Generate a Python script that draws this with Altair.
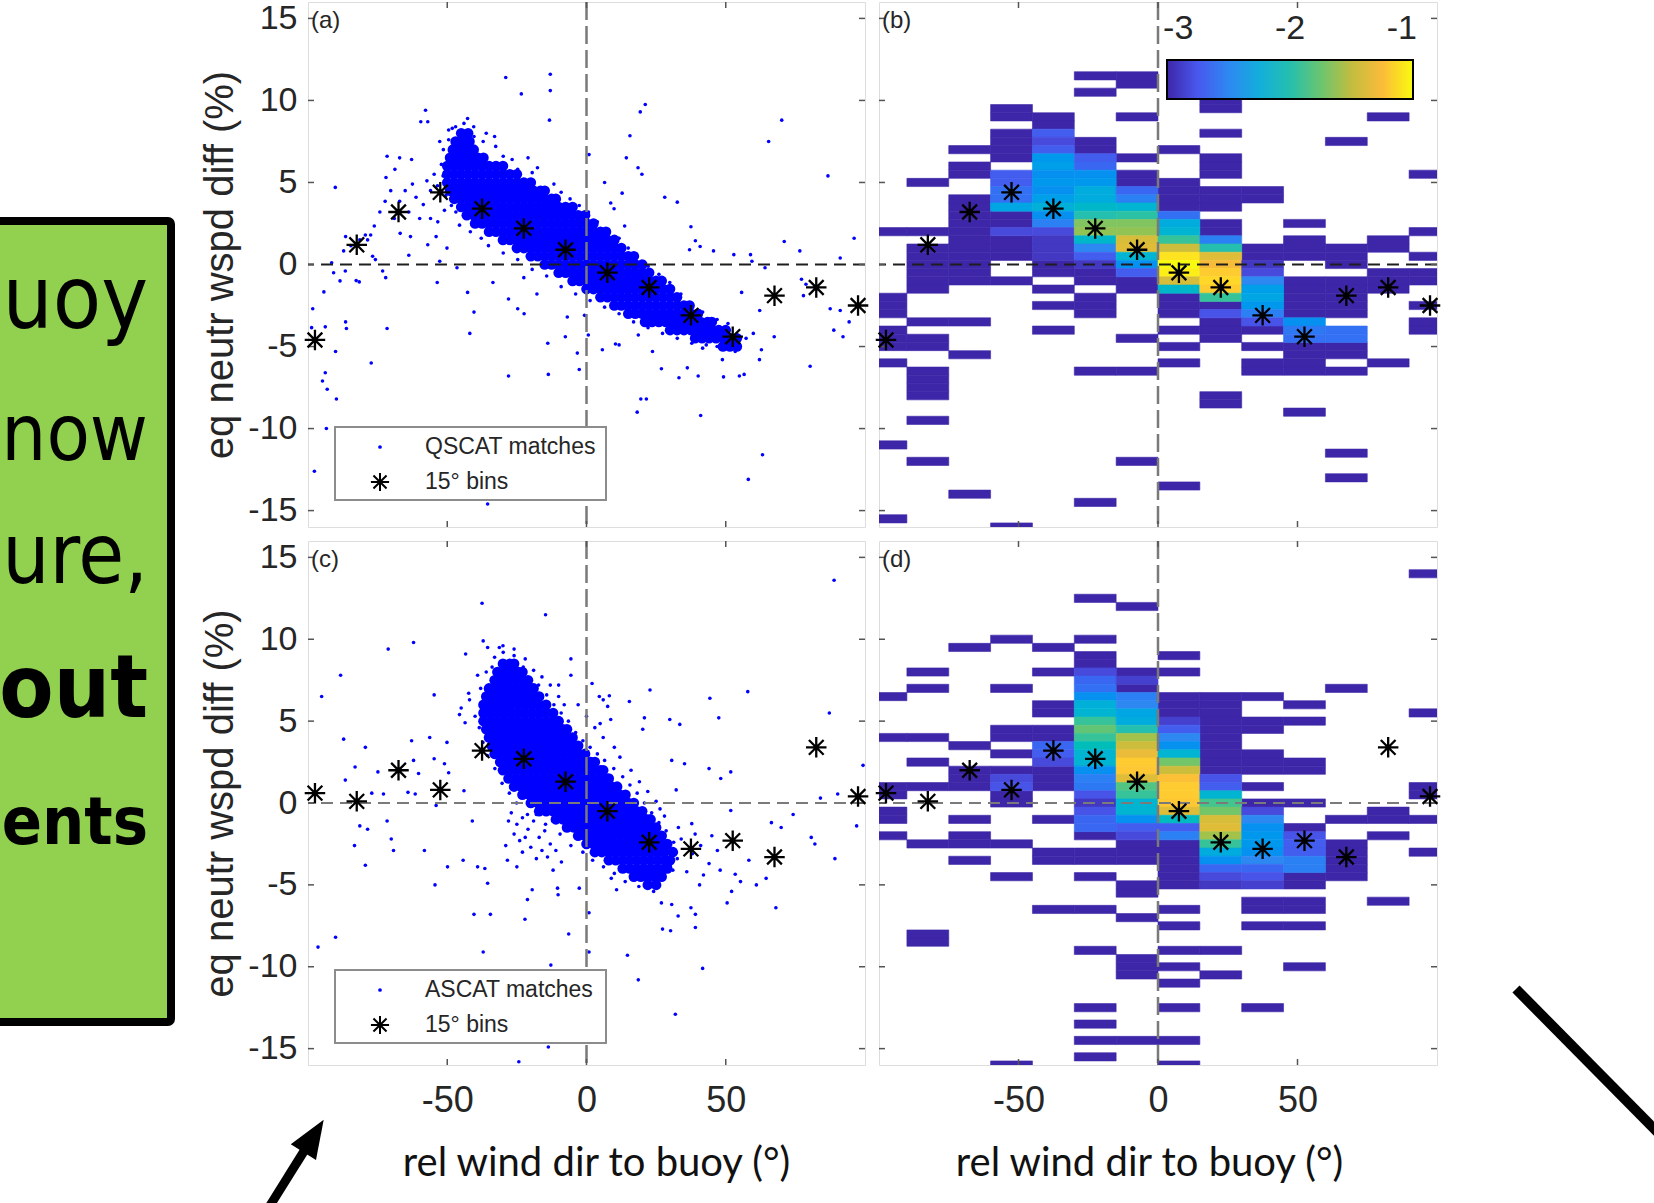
import altair as alt
import pandas as pd

# ------------------------------------------------------------------ data
X_BINS = [-97.5, -82.5, -67.5, -52.5, -37.5, -22.5, -7.5, 7.5, 22.5, 37.5, 52.5, 67.5, 82.5, 97.5]
A_MEANS = [-4.6, 1.2, 3.2, 4.4, 3.4, 2.2, 0.9, -0.5, -1.4, -3.1, -4.4, -1.9, -1.4, -2.5]
C_MEANS = [0.6, 0.1, 2.0, 0.8, 3.2, 2.7, 1.3, -0.5, -2.4, -2.8, -2.3, -3.3, 3.4, 0.4]
Y_TICKS = [-15, -10, -5, 0, 5, 10, 15]
X_TICKS = [-50, 0, 50]
CB_TICKS = [-3, -2, -1]
CB_LIMITS = [-3.1, -0.9]
D = -3.1  # single-count cells (lowest colour)

# 2-D histogram, panel (b): dark cells per 15-degree column (y bin centres)
B_DARK = {
    -97.5: [2.0, -2.0, -2.5, -3.0, -4.0, -4.5, -5.0, -6.0, -11.0, -15.5],
    -82.5: [5.0, 2.0, 1.0, 0.5, 0.0, -0.5, -1.0, -1.5, -3.5, -4.5, -5.0, -6.5, -7.0, -7.5, -8.0, -9.5, -12.0],
    -67.5: [7.0, 6.0, 5.5, 4.0, 3.5, 3.0, 2.5, 2.0, 1.5, 1.0, 0.5, 0.0, -0.5, -1.0, -3.5, -5.5, -14.0],
    -52.5: [9.5, 9.0, 8.0, 7.5, 7.0, 6.5, 3.0, 2.5, 1.5, 1.0, 0.5, -1.0, -16.0],
    -37.5: [9.0, 8.5, 0.0, -0.5, -1.5, -2.5, -4.0],
    -22.5: [11.5, 10.5, 7.5, 7.0, -0.5, -1.0, -2.0, -2.5, -3.0, -6.5, -14.5],
    -7.5: [11.5, 11.0, 9.0, 6.5, 5.5, 5.0, -1.0, -1.5, -4.5, -6.5, -12.0],
    7.5: [7.0, 5.0, 4.5, 4.0, 3.5, -2.0, -2.5, -3.0, -4.0, -5.0, -6.0, -13.5],
    22.5: [10.0, 9.5, 8.0, 6.5, 6.0, 5.5, 4.5, 4.0, 3.5, 2.5, 2.0, -2.5, -3.5, -4.0, -4.5, -8.0, -8.5],
    37.5: [4.5, 4.0, 1.0, 0.5, -4.0, -5.0, -6.0, -6.5],
    52.5: [2.5, 1.5, 1.0, 0.5, -1.0, -1.5, -2.0, -2.5, -3.0, -5.0, -5.5, -6.0, -6.5, -9.0],
    67.5: [7.5, 1.0, 0.5, 0.0, -1.0, -1.5, -2.0, -2.5, -3.0, -5.0, -5.5, -6.5, -11.5, -13.0],
    82.5: [9.0, 1.5, 1.0, -0.5, -1.0, -1.5, -6.0],
    97.5: [5.5, 2.0, 0.5, -0.5, -1.0, -2.5, -3.5, -4.0],
}
# panel (b): cells with higher density, (y bin centre, log10 density)
B_COLOR = {
    -52.5: [(5.5, -2.8), (5.0, -2.8), (4.5, -2.7), (4.0, -2.7), (3.5, -2.35), (2.0, -2.9)],
    -37.5: [(8.0, -2.8), (7.5, -2.9), (7.0, -2.8), (6.5, -2.45), (6.0, -2.4), (5.5, -2.5), (5.0, -2.45),
            (4.5, -2.5), (4.0, -2.4), (3.5, -2.25), (3.0, -2.5), (2.5, -2.6), (2.0, -2.9), (1.5, -3.0),
            (1.0, -3.0), (0.5, -3.0)],
    -22.5: [(6.5, -2.8), (6.0, -2.75), (5.5, -2.5), (5.0, -2.45), (4.5, -2.3), (4.0, -2.3), (3.5, -2.15),
            (3.0, -2.0), (2.5, -1.65), (2.0, -1.6), (1.5, -2.15), (1.0, -2.55), (0.5, -2.8), (0.0, -3.0)],
    -7.5: [(4.5, -2.75), (4.0, -2.6), (3.5, -2.2), (3.0, -1.95), (2.5, -1.65), (2.0, -1.6), (1.5, -1.35),
           (1.0, -1.3), (0.5, -2.2), (0.0, -2.5), (-0.5, -2.8)],
    7.5: [(3.0, -2.7), (2.5, -2.3), (2.0, -2.2), (1.5, -1.9), (1.0, -1.4), (0.5, -1.0), (0.0, -0.9),
          (-0.5, -0.95), (-1.0, -1.35), (-1.5, -2.15)],
    22.5: [(1.5, -2.6), (1.0, -2.0), (0.5, -1.3), (0.0, -1.2), (-0.5, -1.1), (-1.0, -1.05), (-1.5, -1.1),
           (-2.0, -1.9), (-3.0, -2.85)],
    37.5: [(0.0, -3.0), (-0.5, -2.9), (-1.0, -2.55), (-1.5, -2.4), (-2.0, -2.35), (-2.5, -2.45), (-3.0, -2.6),
           (-3.5, -2.85)],
    52.5: [(-3.5, -2.5), (-4.0, -2.65), (-4.5, -2.7)],
    67.5: [(-4.0, -2.7), (-4.5, -2.7)],
}

# 2-D histogram, panel (d)
D_DARK = {
    -97.5: [6.5, 4.0, 1.0, 0.5, -0.5, -1.0, -2.0],
    -82.5: [8.0, 7.0, 4.0, 2.5, 1.0, -2.5, -8.0, -8.5],
    -67.5: [9.5, 3.5, 2.0, 1.5, 1.0, -1.0, -2.0, -2.5, -3.5],
    -52.5: [10.0, 7.0, 4.5, 4.0, 3.0, 2.0, 0.5, 0.0, -2.5, -4.5, -16.0],
    -37.5: [9.5, 8.0, 6.0, 5.5, 4.5, 4.0, 2.0, 1.5, 1.0, -1.0, -3.0, -3.5, -6.5],
    -22.5: [12.5, 10.0, 9.0, 8.5, -2.0, -3.0, -3.5, -4.5, -6.5, -9.0, -12.5, -13.5, -14.5, -15.5],
    -7.5: [12.0, 8.0, 7.0, -2.5, -3.0, -3.5, -5.0, -5.5, -7.0, -9.5, -10.0, -10.5, -14.5],
    7.5: [9.0, 8.0, 6.5, 6.0, 5.5, -2.5, -3.0, -3.5, -4.0, -4.5, -5.0, -6.5, -7.5, -9.0, -10.0, -11.0,
          -12.5, -14.5, -16.0],
    22.5: [6.5, 6.0, 5.5, 5.0, 4.5, 4.0, 3.5, 3.0, 2.5, 2.0, -9.0, -10.5],
    37.5: [6.5, 5.0, 4.5, 3.0, 2.5, 2.0, 1.0, 0.0, -6.0, -6.5, -7.5, -12.5],
    52.5: [6.0, 5.0, 2.5, 2.0, 0.0, -1.5, -4.5, -5.0, -6.0, -6.5, -7.5, -10.0],
    67.5: [7.0, -1.0, -2.5, -3.0, -3.5, -4.0, -4.5],
    82.5: [-0.5, -1.0, -2.0, -6.0],
    97.5: [14.0, 5.5, 1.0, 0.5, -1.0, -3.0],
}
D_COLOR = {
    -52.5: [(1.5, -2.9), (1.0, -2.85)],
    -37.5: [(3.5, -2.75), (3.0, -2.8), (2.5, -2.9)],
    -22.5: [(8.0, -2.9), (7.5, -2.75), (7.0, -2.7), (6.5, -2.5), (6.0, -2.25), (5.5, -2.2), (5.0, -1.9),
            (4.5, -1.75), (4.0, -1.9), (3.5, -2.05), (3.0, -2.2), (2.5, -2.2), (2.0, -2.5), (1.5, -2.6),
            (1.0, -2.65), (0.5, -2.85), (0.0, -3.0), (-0.5, -2.85), (-1.0, -2.75), (-1.5, -2.75)],
    -7.5: [(7.5, -2.95), (6.5, -2.6), (6.0, -2.55), (5.5, -2.35), (5.0, -2.3), (4.5, -2.0), (4.0, -1.55),
           (3.5, -1.4), (3.0, -1.25), (2.5, -1.1), (2.0, -1.12), (1.5, -1.3), (1.0, -1.8), (0.5, -1.9),
           (0.0, -2.2), (-0.5, -2.2), (-1.0, -2.5), (-1.5, -2.8), (-2.0, -2.9)],
    7.5: [(5.0, -2.95), (4.5, -2.8), (4.0, -2.55), (3.5, -2.5), (3.0, -2.2), (2.5, -1.7), (2.0, -1.4),
          (1.5, -1.15), (1.0, -1.1), (0.5, -1.1), (0.0, -1.12), (-0.5, -1.3), (-1.0, -2.1), (-1.5, -2.8),
          (-2.0, -2.6)],
    22.5: [(1.5, -2.85), (1.0, -2.8), (0.5, -2.2), (0.0, -1.85), (-0.5, -1.7), (-1.0, -1.35), (-1.5, -1.3),
           (-2.0, -1.55), (-2.5, -1.9), (-3.0, -2.3), (-3.5, -2.5), (-4.0, -2.75), (-4.5, -2.9), (-5.0, -3.0)],
    37.5: [(-0.5, -2.9), (-1.0, -2.55), (-1.5, -2.5), (-2.0, -2.45), (-2.5, -2.45), (-3.0, -2.5),
           (-3.5, -2.55), (-4.0, -2.75), (-4.5, -2.85), (-5.0, -2.95)],
    52.5: [(-2.0, -2.85), (-2.5, -2.8), (-3.0, -2.8), (-3.5, -2.6), (-4.0, -2.6)],
}

# scatter, panel (a): dense core rows (y, [x...]) and scattered points (x, y)
A_CORE = [
    (8.0, [-45, -42.5]),
    (7.5, [-47, -44.5, -42]),
    (7.0, [-48, -45.5, -43, -40.5]),
    (6.5, [-49, -46.5, -44, -41.5, -39, -37]),
    (6.0, [-50, -47.5, -45, -42.5, -40, -37.5, -35, -32.5, -30]),
    (5.5, [-50, -47.5, -45, -42.5, -40, -37.5, -35, -32.5, -30, -27.5, -25]),
    (5.0, [-50, -47.5, -45, -42.5, -40, -37.5, -35, -32.5, -30, -27.5, -25, -22.5, -20]),
    (4.5, [-49, -46.5, -44, -41.5, -39, -36.5, -34, -31.5, -29, -26.5, -24, -21.5, -19, -16.5, -15]),
    (4.0, [-47.5, -45, -42.5, -40, -37.5, -35, -32.5, -30, -27.5, -25, -22.5, -20, -17.5, -15, -12.5, -11]),
    (3.5, [-45, -42.5, -40, -37.5, -35, -32.5, -30, -27.5, -25, -22.5, -20, -17.5, -15, -12.5, -10, -7.5, -5]),
    (3.0, [-43, -40.5, -38, -35.5, -33, -30.5, -28, -25.5, -23, -20.5, -18, -15.5, -13, -10.5, -8, -5.5, -3,
           -0.5]),
    (2.5, [-40, -37.5, -35, -32.5, -30, -27.5, -25, -22.5, -20, -17.5, -15, -12.5, -10, -7.5, -5, -2.5, 0,
           2.5]),
    (2.0, [-35, -32.5, -30, -27.5, -25, -22.5, -20, -17.5, -15, -12.5, -10, -7.5, -5, -2.5, 0, 2.5, 5, 7]),
    (1.5, [-30, -27.5, -25, -22.5, -20, -17.5, -15, -12.5, -10, -7.5, -5, -2.5, 0, 2.5, 5, 7.5, 10]),
    (1.0, [-25, -22.5, -20, -17.5, -15, -12.5, -10, -7.5, -5, -2.5, 0, 2.5, 5, 7.5, 10, 12.5]),
    (0.5, [-20, -17.5, -15, -12.5, -10, -7.5, -5, -2.5, 0, 2.5, 5, 7.5, 10, 12.5, 15, 17]),
    (0.0, [-15, -12.5, -10, -7.5, -5, -2.5, 0, 2.5, 5, 7.5, 10, 12.5, 15, 17.5, 20]),
    (-0.5, [-10, -7.5, -5, -2.5, 0, 2.5, 5, 7.5, 10, 12.5, 15, 17.5, 20, 22.5]),
    (-1.0, [-5, -2.5, 0, 2.5, 5, 7.5, 10, 12.5, 15, 17.5, 20, 22.5, 25, 27]),
    (-1.5, [0, 2.5, 5, 7.5, 10, 12.5, 15, 17.5, 20, 22.5, 25, 27.5, 30]),
    (-2.0, [5, 7.5, 10, 12.5, 15, 17.5, 20, 22.5, 25, 27.5, 30, 32.5]),
    (-2.5, [10, 12.5, 15, 17.5, 20, 22.5, 25, 27.5, 30, 32.5, 35, 37]),
    (-3.0, [15, 17.5, 20, 22.5, 25, 27.5, 30, 32.5, 35, 37.5, 40]),
    (-3.5, [21, 23.5, 26, 28.5, 31, 33.5, 36, 38.5, 41, 43.5, 45]),
    (-4.0, [30, 32.5, 35, 37.5, 40, 42.5, 45, 47.5, 50]),
    (-4.5, [39, 41.5, 44, 46.5, 49, 51.5, 54]),
    (-5.0, [49, 51.5, 54]),
]
A_OUT = [
    (-29.0, 11.4), (-13.0, 11.6), (-13.0, 10.6), (-23.4, 10.4), (-13.3, 8.8), (-57.8, 9.4), (-59.5, 8.7),
    (-57.0, 8.7), (-42.7, 8.9), (21.1, 9.75), (19.3, 9.3), (15.6, 7.85), (70.1, 8.8), (65.4, 7.5), (86.7, 5.4),
    (0.9, 6.7), (14.3, 6.5), (18.5, 5.9), (19.9, 5.5), (6.5, 5.0), (12.8, 4.35), (8.7, 3.75), (9.9, 3.4),
    (28.1, 4.1), (32.6, 3.8), (13.7, 2.35), (37.5, 2.3), (39.1, 1.45), (37.0, 0.9), (40.8, 1.1), (45.6, 0.83),
    (52.9, 0.6), (58.9, 0.6), (71.0, 1.4), (76.6, 0.83), (91.1, 0.4), (96.1, 1.6), (64.1, -0.2), (59.4, 0.2),
    (-90.2, 4.7), (-86.5, 1.7), (-87.2, 0.83), (-91.5, 0.1), (-94.3, -1.67), (-88.5, -1.0), (-86.6, -0.4),
    (-90.8, -0.5), (-82.7, -0.98), (-81.6, -1.06), (-98.3, -2.7), (-93.8, -3.8), (-98.7, -3.85), (-86.5, -3.5),
    (-86.2, -3.9), (-90.1, -5.3), (-77.3, -6.0), (-93.8, -6.6), (-94.8, -7.1), (-93.1, -7.6), (-89.8, -8.2),
    (-93.4, -10.0), (-97.7, -12.6), (-71.6, -3.9), (-72.1, -0.8), (-73.2, -0.4), (-75.8, 0.3), (-76.8, 0.5),
    (-76.2, 2.35), (-77.5, 1.8), (-78.6, 1.5), (-72.0, 5.3), (-71.6, 6.6), (-68.8, 5.8), (-67.1, 6.5),
    (-62.8, 6.4), (-63.8, 0.56), (-66.9, 1.9), (-63.2, 1.7), (-53.6, -1.1), (-52.7, 0.2), (-57.0, 1.2),
    (-54.0, 1.7), (-50.1, 1.0), (-46.5, -0.2), (-42.7, -1.7), (-40.4, -2.9), (-41.9, -4.2), (-28.0, -6.8),
    (-13.7, -6.7), (-13.9, -4.8), (-7.6, -4.4), (-6.9, -3.2), (-0.7, -3.1), (0.65, -4.3), (-3.3, -5.4),
    (-2.6, -6.4), (-28.0, -2.1), (-24.7, -2.7), (-22.4, -3.0), (-22.5, -0.8), (-33.6, -1.1), (-17.8, -1.8),
    (5.7, -5.2), (10.4, -4.85), (11.7, -4.9), (18.6, -4.3), (19.5, -8.2), (18.2, -9.0), (21.5, -8.2),
    (23.7, -5.3), (26.9, -6.35), (33.2, -6.9), (36.2, -6.3), (40.1, -6.8), (41.0, -9.2), (41.7, -5.1),
    (48.8, -5.8), (49.2, -6.85), (54.9, -6.8), (56.6, -6.7), (62.1, -5.8), (62.8, -5.2), (63.2, -11.6),
    (58.1, -13.1), (67.4, -4.4), (80.3, -6.2), (62.2, -2.8), (55.7, -1.7), (87.5, -2.7), (91.1, -2.8),
    (94.3, -3.5), (88.8, -4.0), (92.1, -4.4), (77.2, -0.9), (78.8, -1.2), (77.9, -1.9), (-35.5, -14.6),
    (-40.4, 7.8), (-37.1, 7.5), (-32.6, 7.2), (-29.9, 6.6), (-26.7, 6.4), (-24.7, 5.8), (-19.5, 5.6),
    (-17.6, 5.9), (-11.7, 4.9), (-9.1, 4.4), (-5.9, 4.0), (-2.6, 3.6), (0.7, 3.2), (3.9, 2.6), (7.8, 2.1),
    (11.7, 1.6), (15.0, 1.0), (18.2, 0.5), (22.1, -0.1), (26.0, -0.6), (29.9, -1.1), (33.9, -1.8),
    (37.8, -2.4), (41.7, -2.9), (46.9, -3.35), (50.8, -3.6), (-46.9, 3.2), (-45.6, 2.4), (-41.7, 2.0),
    (-37.8, 1.6), (-35.2, 1.15), (-29.9, 0.7), (-24.7, 0.3), (-19.5, -0.3), (-14.3, -0.7), (-9.1, -1.35),
    (-3.9, -1.8), (1.3, -2.2), (6.5, -2.6), (11.7, -3.0), (16.9, -3.5), (22.1, -3.85), (27.3, -4.2),
    (32.6, -4.5), (37.8, -4.8), (43.0, -4.9), (46.9, -5.0), (53.4, -5.3), (57.3, -4.5), (59.9, -4.2),
    (-70.3, 4.5), (-67.1, 3.85), (-65.1, 4.5), (-62.5, 4.9), (-61.2, 4.1), (-58.6, 3.65), (-56.0, 4.5),
    (-57.3, 5.1), (-54.7, 5.5), (-52.1, 6.1), (-51.4, 7.0), (-52.7, 7.5), (-49.5, 8.2), (-48.2, 8.3),
    (-45.6, 7.6), (-63.8, 3.2), (-59.9, 2.8), (-56.0, 2.8), (-53.4, 2.6), (-69.0, 2.8), (-74.2, 3.2),
    (-72.3, 3.85), (-79.4, 1.8), (-81.4, 1.5), (-84.6, 1.15), (-50.5, 4.2), (-51.5, 5.4), (-51.0, 3.3),
    (-50.0, 6.6), (-44.0, 8.6), (-40.5, 8.4), (-36.0, 8.0), (-33.0, 7.8), (-21.0, 6.5), (-49.5, 7.6),
    (-47.0, 8.4), (-53.5, 4.8), (-48.5, 3.6),
]

# scatter, panel (c)
C_CORE = [
    (8.5, [-30, -27.5, -26]),
    (8.0, [-32, -29.5, -27, -24.5, -23]),
    (7.5, [-33, -30.5, -28, -25.5, -23, -21]),
    (7.0, [-35, -32.5, -30, -27.5, -25, -22.5, -20, -19]),
    (6.5, [-36, -33.5, -31, -28.5, -26, -23.5, -21, -18.5, -17]),
    (6.0, [-37, -34.5, -32, -29.5, -27, -24.5, -22, -19.5, -17, -14.5]),
    (5.5, [-37, -34.5, -32, -29.5, -27, -24.5, -22, -19.5, -17, -14.5, -12]),
    (5.0, [-37, -34.5, -32, -29.5, -27, -24.5, -22, -19.5, -17, -14.5, -12, -10]),
    (4.5, [-36, -33.5, -31, -28.5, -26, -23.5, -21, -18.5, -16, -13.5, -11, -8.5, -7]),
    (4.0, [-35, -32.5, -30, -27.5, -25, -22.5, -20, -17.5, -15, -12.5, -10, -7.5, -5]),
    (3.5, [-34, -31.5, -29, -26.5, -24, -21.5, -19, -16.5, -14, -11.5, -9, -6.5, -4, -3]),
    (3.0, [-33, -30.5, -28, -25.5, -23, -20.5, -18, -15.5, -13, -10.5, -8, -5.5, -3, -0.5]),
    (2.5, [-31, -28.5, -26, -23.5, -21, -18.5, -16, -13.5, -11, -8.5, -6, -3.5, -1, 1.5, 3]),
    (2.0, [-30, -27.5, -25, -22.5, -20, -17.5, -15, -12.5, -10, -7.5, -5, -2.5, 0, 2.5, 5, 6]),
    (1.5, [-28, -25.5, -23, -20.5, -18, -15.5, -13, -10.5, -8, -5.5, -3, -0.5, 2, 4.5, 7, 8]),
    (1.0, [-26, -23.5, -21, -18.5, -16, -13.5, -11, -8.5, -6, -3.5, -1, 1.5, 4, 6.5, 9, 11]),
    (0.5, [-23, -20.5, -18, -15.5, -13, -10.5, -8, -5.5, -3, -0.5, 2, 4.5, 7, 9.5, 12, 14]),
    (0.0, [-20, -17.5, -15, -12.5, -10, -7.5, -5, -2.5, 0, 2.5, 5, 7.5, 10, 12.5, 15, 17]),
    (-0.5, [-17, -14.5, -12, -9.5, -7, -4.5, -2, 0.5, 3, 5.5, 8, 10.5, 13, 15.5, 18, 20]),
    (-1.0, [-11, -8.5, -6, -3.5, -1, 1.5, 4, 6.5, 9, 11.5, 14, 16.5, 19, 21.5, 23]),
    (-1.5, [-7, -4.5, -2, 0.5, 3, 5.5, 8, 10.5, 13, 15.5, 18, 20.5, 23, 25]),
    (-2.0, [-3, -0.5, 2, 4.5, 7, 9.5, 12, 14.5, 17, 19.5, 22, 24.5, 27]),
    (-2.5, [0, 2.5, 5, 7.5, 10, 12.5, 15, 17.5, 20, 22.5, 25, 27.5, 29]),
    (-3.0, [3, 5.5, 8, 10.5, 13, 15.5, 18, 20.5, 23, 25.5, 28, 31]),
    (-3.5, [8, 10.5, 13, 15.5, 18, 20.5, 23, 25.5, 28, 30]),
    (-4.0, [13, 15.5, 18, 20.5, 23, 25.5, 28, 29]),
    (-4.5, [17, 19.5, 22, 24.5, 27]),
    (-5.0, [22, 25]),
]
C_OUT = [
    (88.9, 13.6), (-37.5, 12.2), (-14.7, 11.5), (-62.1, 9.8), (-71.2, 9.4), (-37.1, 9.9), (-35.5, 9.5),
    (-31.3, 9.5), (-43.4, 9.1), (-88.3, 7.8), (-95.1, 6.5), (-54.7, 6.6), (-42.3, 6.7), (-39.1, 7.8),
    (-5.6, 8.8), (-5.6, 7.8), (-10.0, 7.2), (4.6, 6.5), (8.2, 6.55), (15.4, 6.2), (7.6, 5.9), (8.7, 5.1),
    (4.9, 4.85), (22.8, 6.9), (20.8, 5.2), (29.9, 5.1), (33.5, 4.8), (20.2, 4.5), (44.3, 6.4), (47.5, 5.2),
    (57.9, 6.8), (87.2, 5.5), (99.3, 2.3), (30.6, 2.6), (35.2, 2.4), (44.0, 2.1), (48.2, 1.5), (51.8, 1.9),
    (32.2, 0.8), (26.4, -0.36), (37.8, -1.26), (51.8, -0.46), (66.4, -1.2), (69.9, -1.5), (74.2, -0.7),
    (84.0, 0.3), (90.2, 0.55), (97.0, -1.4), (80.7, -2.1), (82.0, -2.5), (89.2, -3.4), (68.0, -6.4),
    (64.5, -4.6), (61.0, -5.0), (55.3, -4.8), (52.1, -5.4), (50.5, -6.1), (58.3, -3.5), (53.4, -4.35),
    (40.6, -5.0), (37.5, -6.4), (39.1, -6.8), (39.1, -7.6), (32.9, -6.9), (30.6, -6.2), (26.9, -6.1),
    (27.3, -7.7), (30.2, -7.8), (41.7, -10.1), (31.9, -12.9), (18.6, -10.8), (14.7, -9.3), (10.8, -5.3),
    (8.9, -4.6), (0.9, -6.7), (0.9, -9.1), (-6.4, -8.0), (-2.6, -5.2), (-10.4, -5.2), (-10.2, -5.6),
    (-19.5, -5.3), (-21.2, -5.9), (-22.1, -7.1), (-25.0, -3.9), (-28.4, -3.5), (-35.5, -4.9), (-39.1, -3.9),
    (-36.5, -4.0), (-44.3, -3.5), (-40.4, -6.8), (-34.5, -6.8), (-37.1, -9.1), (-49.9, -3.9), (-54.4, -5.0),
    (-58.2, -2.9), (-69.3, -2.9), (-70.1, -2.2), (-83.3, -2.6), (-79.4, -3.8), (-81.4, -1.4), (-78.6, -1.6),
    (-71.6, -1.1), (-90.1, -8.2), (-96.4, -8.8), (-12.8, -9.9), (-24.7, -14.6), (-13.7, -14.9), (-2.0, -14.6),
    (-24.3, -15.8), (-87.2, 3.9), (-79.4, 3.4), (-83.1, 2.2), (-86.6, 1.4), (-74.9, 1.9), (-72.9, 0.55),
    (-77.1, 0.6), (-62.8, 3.8), (-62.1, 2.6), (-60.3, 1.8), (-64.1, 0.65), (-61.5, 0.55), (-56.3, 4.0),
    (-54.7, 2.7), (-51.0, 2.4), (-49.5, 1.85), (-50.1, 3.7), (-45.6, 5.4), (-43.6, 4.9), (-44.0, 0.75),
    (-54.0, -0.15), (-41.0, -1.1),
    (-29.9, 9.2), (-26.0, 9.0), (-33.9, 8.3), (-22.7, 8.3), (-20.5, 7.6), (-17.2, 7.2), (-14.3, 6.6),
    (-11.7, 6.0), (-9.1, 5.5), (-6.5, 5.0), (-3.9, 4.3), (-1.3, 3.8), (1.3, 3.4), (3.9, 3.0), (6.5, 2.6),
    (9.8, 2.1), (13.0, 1.6), (15.6, 1.1), (18.2, 0.6), (20.8, 0.0), (23.4, -0.6), (26.0, -1.2), (28.6, -1.7),
    (31.3, -2.4), (32.6, -3.4), (31.0, -4.1), (-38.5, 4.6), (-37.2, 3.7), (-35.6, 2.9), (-32.9, 2.1),
    (-30.3, 1.2), (-27.7, 0.6), (-25.1, 0.0), (-21.2, -0.7), (-14.7, -1.3), (-9.5, -1.9), (-5.6, -2.6),
    (-1.3, -3.0), (2.2, -3.5), (6.1, -3.9), (10.0, -4.3), (13.9, -4.8), (18.8, -5.1), (24.1, -5.4),
    (-27.0, -0.6), (-25.0, -1.3), (-23.0, -0.9), (-21.0, -1.6), (-19.0, -1.1), (-17.0, -2.1), (-24.0, -2.3),
    (-20.0, -2.7), (-15.0, -1.7), (-13.0, -2.5), (-26.0, -1.9), (-22.0, -2.1), (-18.0, -0.7), (-16.0, -2.9),
    (-28.0, -1.1), (-14.0, -3.3), (-11.0, -2.9), (-9.0, -3.6), (-12.0, -4.1), (-18.0, -3.4), (-23.0, -3.0),
    (-29.0, -2.6), (30.0, -3.8), (34.0, -2.2), (38.0, -3.1), (41.0, -2.6), (44.0, -3.7), (47.0, -2.9),
    (36.0, -4.2), (42.0, -4.4), (48.0, -4.1), (33.0, -1.5), (39.0, -1.9), (45.0, -2.0), (-45.0, 5.8),
    (-42.0, 6.3), (-40.0, 5.3), (-38.0, 7.0), (-36.0, 8.0), (-33.0, 8.9), (-30.0, 9.6), (-26.0, 9.4),
    (-22.0, 8.8), (-19.0, 8.1), (-16.0, 7.7), (-13.0, 7.2), (-10.0, 6.5), (-8.0, 6.0), (0.0, 5.3), (3.0, 4.6),
    (6.0, 4.0), (-3.0, 6.0), (10.0, 3.4), (12.0, 2.8), (16.0, 2.0), (19.0, 1.3), (22.0, 0.7), (25.0, 0.1),
    (28.0, -0.8), (6.0, 6.3), (2.0, 7.3),
]

BOX_LINES = ["uoy", "now", "ure,", "out", "ents"]
BOX_BOLD = [False, False, False, True, True]
BOX_SIZE = [88, 79, 83, 88, 66]
BOX_BASE = [326, 458, 581, 715, 842]

# parula-like colour ramp
PARULA = ["#3e26a8", "#4858ee", "#2d88f2", "#13aedb", "#25bfaf", "#6ac56f", "#c2bd3f", "#fbbb3a", "#f9fb0e"]

# ------------------------------------------------------------------ styling
W_L, W_R, H_T, H_B = 557, 558, 525, 524
SANS = "'Liberation Sans', Arial, sans-serif"
COND = "'DejaVu Sans Condensed', 'DejaVu Sans', sans-serif"
STAR = "M0,-1L0,1M-1,0L1,0M-0.72,-0.72L0.72,0.72M-0.72,0.72L0.72,-0.72"
HEAD = "M0,-1L0.62,0.6L-0.62,0.6Z"
XS = alt.Scale(domain=[-100, 100], nice=False, zero=False)
YS = alt.Scale(domain=[-16, 16], nice=False, zero=False)
lo, hi = CB_LIMITS
CDOM = [lo + i * (hi - lo) / (len(PARULA) - 1) for i in range(len(PARULA))]
CSCALE = alt.Scale(domain=CDOM, range=PARULA, clamp=True)
GRAD = alt.LinearGradient(
    gradient="linear", x1=0, x2=1, y1=0, y2=0,
    stops=[alt.GradientStop(color=c, offset=i / (len(PARULA) - 1)) for i, c in enumerate(PARULA)],
)
ONE = pd.DataFrame({"a": [0]})


def heat_df(dark, color):
    rows = []
    for xc, yl in dark.items():
        for y in yl:
            rows.append((xc, y, D))
    for xc, cells in color.items():
        for y, v in cells:
            rows.append((xc, y, v))
    df = pd.DataFrame(rows, columns=["xc", "yc", "v"]).drop_duplicates(["xc", "yc"], keep="last")
    df["x0"] = df["xc"] - 7.5
    df["x1"] = df["xc"] + 7.5
    df["y0"] = df["yc"] - 0.25
    df["y1"] = df["yc"] + 0.25
    return df


def core_df(rows):
    xs, ys = [], []
    for y, xl in rows:
        for x in xl:
            xs.append(x)
            ys.append(y)
    return pd.DataFrame({"x": xs, "y": ys})


def x_axis(show, title_x):
    if not show:
        return None
    return alt.Axis(values=X_TICKS, labelExpr="'' + datum.value", grid=False, domain=False, ticks=False,
                    labelFont=SANS, labelFontSize=36, labelPadding=18, labelColor="#262626",
                    labelFlush=False, title="rel wind dir to buoy (°)", titleFont="Lato",
                    titleFontSize=40, titleFontWeight="normal", titleColor="#111111",
                    titleX=title_x, titleY=98, titleBaseline="middle", titleAlign="center")


def y_axis(show, h):
    if not show:
        return None
    return alt.Axis(values=Y_TICKS, labelExpr="'' + datum.value", grid=False, domain=False, ticks=False,
                    labelFont=SANS, labelFontSize=34, labelPadding=11, labelColor="#262626",
                    title="eq neutr wspd diff (%)", titleFont=SANS, titleFontSize=40,
                    titleFontWeight="normal", titleColor="#262626", titleX=-88, titleY=h / 2,
                    titleBaseline="middle", titleAlign="center", titleAngle=270)


def frame_layers(w, h, label, hcolor, xa, ya):
    xt = pd.DataFrame({"t": X_TICKS})
    yt = pd.DataFrame({"t": Y_TICKS})
    tick = dict(color="#555555", strokeWidth=1.5)
    return [
        alt.Chart(ONE).mark_rule(color=hcolor, strokeWidth=2, strokeDash=[12, 7]).encode(
            y=alt.Y("a:Q", scale=YS, axis=ya)),
        alt.Chart(ONE).mark_rule(color="#7a7a7a", strokeWidth=2.5, strokeDash=[18, 6]).encode(
            x=alt.X("a:Q", scale=XS, axis=xa)),
        alt.Chart(xt).mark_rule(**tick).encode(x=alt.X("t:Q", scale=XS, axis=xa), y=alt.value(0), y2=alt.value(6)),
        alt.Chart(xt).mark_rule(**tick).encode(x=alt.X("t:Q", scale=XS, axis=xa), y=alt.value(h - 6), y2=alt.value(h)),
        alt.Chart(yt).mark_rule(**tick).encode(y=alt.Y("t:Q", scale=YS, axis=ya), x=alt.value(0), x2=alt.value(6)),
        alt.Chart(yt).mark_rule(**tick).encode(y=alt.Y("t:Q", scale=YS, axis=ya), x=alt.value(w - 6), x2=alt.value(w)),
        alt.Chart(pd.DataFrame({"t": [label]})).mark_text(
            align="left", baseline="middle", font=SANS, fontSize=24, color="#262626").encode(
            x=alt.value(3), y=alt.value(19), text="t:N"),
    ]


def star_layer(means, xa, ya):
    df = pd.DataFrame({"x": X_BINS, "y": means})
    return alt.Chart(df).mark_point(shape=STAR, size=420, filled=False, stroke="black",
                                    strokeWidth=2.3, opacity=1).encode(
        x=alt.X("x:Q", scale=XS, axis=xa), y=alt.Y("y:Q", scale=YS, axis=ya))


def legend_layers(top, name):
    txt = dict(align="left", baseline="middle", font=SANS, fontSize=23, color="#262626")
    return [
        alt.Chart(ONE).mark_rect(fill="white", stroke="#8c8c8c", strokeWidth=2).encode(
            x=alt.value(27), x2=alt.value(298), y=alt.value(top), y2=alt.value(top + 73)),
        alt.Chart(ONE).mark_circle(size=14, color="#0000ff", opacity=1).encode(
            x=alt.value(72), y=alt.value(top + 20)),
        alt.Chart(ONE).mark_point(shape=STAR, size=330, filled=False, stroke="black", strokeWidth=2,
                                  opacity=1).encode(x=alt.value(72), y=alt.value(top + 55)),
        alt.Chart(pd.DataFrame({"t": [name]})).mark_text(**txt).encode(
            x=alt.value(117), y=alt.value(top + 20), text="t:N"),
        alt.Chart(pd.DataFrame({"t": ["15° bins"]})).mark_text(**txt).encode(
            x=alt.value(117), y=alt.value(top + 55), text="t:N"),
    ]


def scatter_panel(core, out, means, label, name, w, h, show_x, title_x, hcolor, legend_top):
    xa, ya = x_axis(show_x, title_x), y_axis(True, h)
    core_l = alt.Chart(core_df(core)).mark_circle(size=112, color="#0000ff", opacity=1).encode(
        x=alt.X("x:Q", scale=XS, axis=xa), y=alt.Y("y:Q", scale=YS, axis=ya))
    out_df = pd.DataFrame(out, columns=["x", "y"])
    out_l = alt.Chart(out_df).mark_circle(size=13, color="#0000ff", opacity=1).encode(
        x=alt.X("x:Q", scale=XS, axis=xa), y=alt.Y("y:Q", scale=YS, axis=ya))
    layers = [core_l, out_l] + frame_layers(w, h, label, hcolor, xa, ya) + [star_layer(means, xa, ya)]
    layers += legend_layers(legend_top, name)
    return layers


def heat_panel(dark, color, means, label, w, h, show_x, title_x, hcolor):
    xa, ya = x_axis(show_x, title_x), None
    heat = alt.Chart(heat_df(dark, color)).mark_rect(clip=True, strokeWidth=0.6).encode(
        x=alt.X("x0:Q", scale=XS, axis=xa), x2="x1:Q",
        y=alt.Y("y0:Q", scale=YS, axis=ya), y2="y1:Q",
        color=alt.Color("v:Q", scale=CSCALE, legend=None),
        stroke=alt.Stroke("v:Q", scale=CSCALE, legend=None))
    return [heat] + frame_layers(w, h, label, hcolor, xa, ya) + [star_layer(means, xa, ya)]


# ---- panel (a) + slide decorations (green note box, arrows)
pa_layers = scatter_panel(A_CORE, A_OUT, A_MEANS, "(a)", "QSCAT matches", W_L, H_T, False, 0,
                          "#1e1e1e", 425)
deco = [
    alt.Chart(ONE).mark_rect(fill="#92d050", stroke="black", strokeWidth=8, cornerRadius=3).encode(
        x=alt.value(-340), x2=alt.value(-137), y=alt.value(219), y2=alt.value(1020)),
]
for t, b, s, py in zip(BOX_LINES, BOX_BOLD, BOX_SIZE, BOX_BASE):
    deco.append(alt.Chart(pd.DataFrame({"t": [t]})).mark_text(
        align="right", baseline="alphabetic", font=COND, fontSize=s,
        fontWeight="bold" if b else "normal", color="black").encode(
        x=alt.value(-160), y=alt.value(py), text="t:N"))
deco += [
    alt.Chart(ONE).mark_rule(color="black", strokeWidth=9).encode(
        x=alt.value(3), y=alt.value(1138), x2=alt.value(-52), y2=alt.value(1226)),
    alt.Chart(ONE).mark_point(shape=HEAD, size=2300, filled=True, color="black", opacity=1,
                              angle=32).encode(x=alt.value(3), y=alt.value(1138)),
    alt.Chart(ONE).mark_rule(color="black", strokeWidth=10).encode(
        x=alt.value(1208), y=alt.value(987), x2=alt.value(1372), y2=alt.value(1153)),
]
panel_a = alt.layer(*(pa_layers + deco)).properties(width=W_L, height=H_T)

# ---- panel (b) with colour bar
cb_scale = alt.Scale(domain=CB_LIMITS, range=[288, 534], nice=False, zero=False)
cbar = alt.layer(
    alt.Chart(pd.DataFrame({"lo": [CB_LIMITS[0]], "hi": [CB_LIMITS[1]]})).mark_rect(
        fill=GRAD, stroke="black", strokeWidth=2).encode(
        x=alt.X("lo:Q", scale=cb_scale, axis=None), x2="hi:Q", y=alt.value(58), y2=alt.value(97)),
    alt.Chart(pd.DataFrame({"v": CB_TICKS, "t": [str(v) for v in CB_TICKS]})).mark_text(
        baseline="middle", font=SANS, fontSize=34, color="#262626").encode(
        x=alt.X("v:Q", scale=cb_scale, axis=None), y=alt.value(27), text="t:N"),
)
panel_b = alt.layer(
    alt.layer(*heat_panel(B_DARK, B_COLOR, A_MEANS, "(b)", W_R, H_T, False, 0, "#1e1e1e")),
    cbar,
).resolve_scale(x="independent").properties(width=W_R, height=H_T)

# ---- panel (c)
panel_c = alt.layer(*scatter_panel(C_CORE, C_OUT, C_MEANS, "(c)", "ASCAT matches", W_L, H_B, True,
                                   288, "#7a7a7a", 429)).properties(width=W_L, height=H_B)

# ---- panel (d)
panel_d = alt.layer(*heat_panel(D_DARK, D_COLOR, C_MEANS, "(d)", W_R, H_B, True, 270, "#7a7a7a")).properties(
    width=W_R, height=H_B)

chart = alt.concat(panel_a, panel_b, panel_c, panel_d, columns=2, spacing=14, bounds="flush").properties(
    autosize=alt.AutoSizeParams(type="none"),
    padding={"left": 308, "top": 2, "right": 1346, "bottom": 1201},
).configure_view(stroke="#858585", strokeWidth=3).configure(background="white")

chart.save("out.html", embed_options={"renderer": "svg", "actions": False})
